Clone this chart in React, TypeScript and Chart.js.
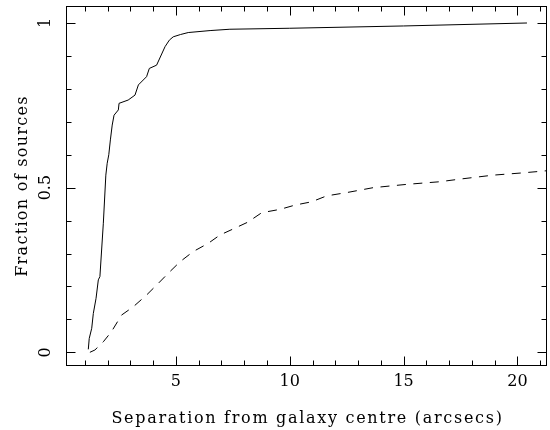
import React, { useEffect, useRef } from "react";
import { Chart, registerables } from "chart.js";

Chart.register(...registerables);

const solidX = [1.15, 1.19, 1.3, 1.37, 1.49, 1.59, 1.66, 1.81, 1.92, 1.98, 2.05, 2.12, 2.2, 2.28, 2.47, 2.5, 2.9, 3.2, 3.35, 3.71, 3.83, 4.15, 4.52, 4.71, 4.88, 5.2, 5.54, 6.5, 7.37, 10, 15, 20.42];
const solidY = [0.009, 0.042, 0.073, 0.118, 0.164, 0.22, 0.23, 0.392, 0.538, 0.574, 0.6, 0.645, 0.69, 0.72, 0.736, 0.756, 0.766, 0.781, 0.812, 0.837, 0.862, 0.872, 0.928, 0.948, 0.958, 0.965, 0.971, 0.977, 0.981, 0.984, 0.991, 1.0];

const dashedX = [1.22, 1.44, 1.81, 2.17, 2.61, 3.12, 3.71, 4.22, 4.66, 5.18, 5.76, 6.42, 6.93, 7.59, 8.15, 8.77, 9.57, 10.23, 10.96, 11.62, 12.5, 13.67, 15.14, 16.6, 17.48, 18.94, 20.26, 21.4];
const dashedY = [0.0, 0.007, 0.032, 0.063, 0.113, 0.138, 0.174, 0.209, 0.24, 0.275, 0.306, 0.331, 0.356, 0.377, 0.395, 0.424, 0.434, 0.447, 0.457, 0.475, 0.485, 0.5, 0.51, 0.518, 0.526, 0.538, 0.545, 0.552];

const xTickValues = [5, 10, 15, 20];
const yTickValues = [0, 0.5, 1];
const xTitle = "Separation from galaxy centre (arcsecs)";
const yTitle = "Fraction of sources";

const FONT = "'DejaVu Serif', serif";

const framePlugin = {
  id: "pgframe",
  afterDatasetsDraw(chart: any) {
    const { ctx, chartArea } = chart;
    const { left, right, top, bottom } = chartArea;
    const xs = chart.scales.x;
    const ys = chart.scales.y;
    ctx.save();
    ctx.strokeStyle = "#000";
    ctx.lineWidth = 1;
    ctx.setLineDash([]);
    const L = Math.round(left) + 0.5;
    const R = Math.round(right) - 0.5;
    const T = Math.round(top) + 0.5;
    const B = Math.round(bottom) - 0.5;
    ctx.strokeRect(L, T, R - L, B - T);
    ctx.beginPath();
    for (let v = Math.ceil(xs.min); v <= Math.floor(xs.max); v++) {
      const px = Math.round(xs.getPixelForValue(v)) + 0.5;
      const len = v % 5 === 0 ? 9 : 5;
      ctx.moveTo(px, B);
      ctx.lineTo(px, B - len);
      ctx.moveTo(px, T);
      ctx.lineTo(px, T + len);
    }
    for (let i = 0; i <= 10; i++) {
      const py = Math.round(ys.getPixelForValue(i / 10)) + 0.5;
      const len = i % 5 === 0 ? 9 : 5;
      ctx.moveTo(L, py);
      ctx.lineTo(L + len, py);
      ctx.moveTo(R, py);
      ctx.lineTo(R - len, py);
    }
    ctx.stroke();

    ctx.fillStyle = "#000";
    ctx.font = `16px ${FONT}`;
    ctx.textAlign = "center";
    ctx.textBaseline = "middle";
    for (const v of xTickValues) {
      ctx.fillText(String(v), xs.getPixelForValue(v), bottom + 16);
    }
    for (const v of yTickValues) {
      ctx.save();
      ctx.translate(left - 20, ys.getPixelForValue(v));
      ctx.rotate(-Math.PI / 2);
      ctx.fillText(String(v), 0, 0);
      ctx.restore();
    }

    // axis titles
    ctx.textBaseline = "alphabetic";
    ctx.textAlign = "center";
    (ctx as any).letterSpacing = "1.7px";
    ctx.fillText(xTitle, (left + right) / 2 + 1, 423);
    ctx.save();
    (ctx as any).letterSpacing = "1.3px";
    ctx.translate(27, (top + bottom) / 2);
    ctx.rotate(-Math.PI / 2);
    ctx.fillText(yTitle, 0, 0);
    ctx.restore();
    (ctx as any).letterSpacing = "0px";
    ctx.restore();
  },
};

export default function App() {
  const ref = useRef<HTMLCanvasElement | null>(null);
  useEffect(() => {
    if (!ref.current) return;
    const chart = new Chart(ref.current, {
      type: "line",
      data: {
        datasets: [
          {
            data: solidX.map((x, i) => ({ x, y: solidY[i] })),
            borderColor: "#000",
            borderWidth: 1,
            pointRadius: 0,
            tension: 0,
            fill: false,
          },
          {
            data: dashedX.map((x, i) => ({ x, y: dashedY[i] })),
            borderColor: "#000",
            borderWidth: 1,
            borderDash: [9, 7.5],
            pointRadius: 0,
            tension: 0,
            fill: false,
          },
        ],
      },
      options: {
        animation: false,
        responsive: false,
        maintainAspectRatio: false,
        layout: { padding: { top: 6, right: 3, left: 0, bottom: 0 } },
        plugins: { legend: { display: false }, tooltip: { enabled: false } },
        scales: {
          x: {
            type: "linear",
            min: 0.17,
            max: 21.3,
            grid: { display: false, drawTicks: false },
            border: { display: false },
            ticks: { display: false },
            afterBuildTicks: (s: any) => {
              s.ticks = xTickValues.map((v) => ({ value: v }));
            },
            afterFit: (s: any) => {
              s.height = 64;
            },
            title: { display: false, text: xTitle },
          },
          y: {
            type: "linear",
            min: -0.0416,
            max: 1.0516,
            grid: { display: false, drawTicks: false },
            border: { display: false },
            ticks: { display: false },
            afterBuildTicks: (s: any) => {
              s.ticks = yTickValues.map((v) => ({ value: v }));
            },
            afterFit: (s: any) => {
              s.width = 66;
            },
            title: { display: false, text: yTitle },
          },
        },
      },
      plugins: [framePlugin],
    });
    return () => chart.destroy();
  }, []);
  return (
    <div style={{ position: "fixed", left: 0, top: 0, width: 550, height: 430, background: "#fff" }}>
      <canvas ref={ref} width={550} height={430} style={{ display: "block" }} />
    </div>
  );
}
